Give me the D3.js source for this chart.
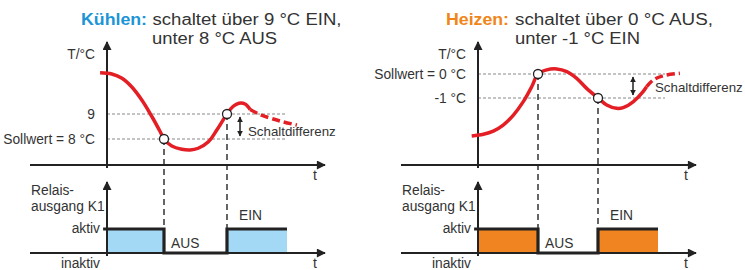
<!DOCTYPE html>
<html>
<head>
<meta charset="utf-8">
<script src="https://cdn.jsdelivr.net/npm/d3@7"></script>
<style>
  body { margin: 0; background: #fff; }
  svg text { font-family: "Liberation Sans", Arial, sans-serif; fill: #333; }
</style>
</head>
<body>
<div id="chart"></div>
<script>
// ---- data (time in arbitrary units, temperature in °C) ----
var coolSolid = [[-2.3,10.65],[1.6,10.6],[5,10.43],[8.2,10.09],[11.6,9.56],[15,8.89],[17.7,8.3],[19,8],
  [21.6,7.72],[24.9,7.59],[27.7,7.56],[30.4,7.63],[33.8,7.89],[36.6,8.36],[40,9],[42,9.3],[44,9.43],[46,9.4],[47.7,9.18]];
var coolDashed = [[47.7,9.18],[51,8.98],[57.7,8.72],[63.3,8.56]];
var coolSwitch = [[19,8],[40,9]];          // AUS at 8 °C, EIN at 9 °C
var coolRelay = [[-1.3,1],[19,1],[19,0],[40,0],[40,1],[60,1]];

var heatSolid = [[-2.1,-2.58],[1.8,-2.51],[5.1,-2.38],[8.4,-2.13],[11.8,-1.71],[15.1,-1.15],[17.9,-0.53],[20,0],
  [22.9,0.17],[26.2,0.21],[29.6,0.1],[32.9,-0.18],[36.2,-0.6],[40,-1],[42.9,-1.29],[46.2,-1.43],[48.4,-1.4],
  [51.8,-1.15],[54.6,-0.8],[56.2,-0.53]];
var heatDashed = [[56.2,-0.53],[58.4,-0.25],[61.8,-0.07],[67.3,0.03]];
var heatSwitch = [[20,0],[40,-1]];         // AUS at 0 °C, EIN at -1 °C
var heatRelay = [[-1.3,1],[20,1],[20,0],[40,0],[40,1],[60,1]];

var coolLevels = [9, 8], coolLevelLabels = ["9", "Sollwert = 8 °C"];
var heatLevels = [0, -1], heatLevelLabels = ["Sollwert = 0 °C", "-1 °C"];

var W = 745, H = 270;
var svg = d3.select("#chart").append("svg").attr("width", W).attr("height", H);

var defs = svg.append("defs");
defs.append("marker").attr("id", "arr")
  .attr("viewBox", "0 0 10 10").attr("refX", 9).attr("refY", 5)
  .attr("markerWidth", 6).attr("markerHeight", 6).attr("orient", "auto-start-reverse")
  .attr("markerUnits", "userSpaceOnUse")
  .append("path").attr("d", "M0,0 L10,5 L0,10 z").attr("fill", "#222");
defs.append("marker").attr("id", "axarr")
  .attr("viewBox", "0 0 10 10").attr("refX", 9).attr("refY", 5)
  .attr("markerWidth", 10).attr("markerHeight", 9).attr("orient", "auto")
  .attr("markerUnits", "userSpaceOnUse")
  .append("path").attr("d", "M0,0 L10,5 L0,10 z").attr("fill", "#222");

function drawPanel(p) {
  var g = svg.append("g");
  var x = d3.scaleLinear().domain([0, 60]).range([p.x0, p.x0 + 180]);
  var y = d3.scaleLinear().domain(p.tDomain).range(p.tRange);
  var yr = d3.scaleLinear().domain([0, 1]).range([253, 229]);
  var axisTop = 165, axisBot = 253;
  var fs = "13.8px";

  // title (source image is slightly stretched horizontally)
  g.append("text").attr("x", p.boldX).attr("y", 25).style("font-size", "16px")
    .attr("textLength", p.boldLen).attr("lengthAdjust", "spacingAndGlyphs")
    .style("font-weight", "bold").style("fill", p.color).text(p.titleBold);
  g.append("text").attr("x", p.title1X).attr("y", 25).style("font-size", "16px")
    .attr("textLength", p.title1Len).attr("lengthAdjust", "spacingAndGlyphs").text(p.title1);
  g.append("text").attr("x", p.title2X).attr("y", 43.5).style("font-size", "16px")
    .attr("textLength", p.title2Len).attr("lengthAdjust", "spacingAndGlyphs").text(p.title2);

  // reference level lines
  p.levels.forEach(function(v, i) {
    g.append("line").attr("x1", x(0)).attr("x2", p.levelEnd).attr("y1", y(v)).attr("y2", y(v))
      .attr("stroke", "#888").attr("stroke-width", 1).attr("stroke-dasharray", "3,2");
    g.append("text").attr("x", x(0) - 12).attr("y", y(v) + 5).attr("text-anchor", "end")
      .style("font-size", fs).text(p.levelLabels[i]);
  });

  // vertical switching lines
  p.sw.forEach(function(d) {
    g.append("line").attr("x1", x(d[0])).attr("x2", x(d[0])).attr("y1", y(d[1])).attr("y2", yr(1))
      .attr("stroke", "#333").attr("stroke-width", 1.5).attr("stroke-dasharray", "6,4");
  });

  // relay fill
  var area = d3.area().x(function(d) { return x(d[0]); }).y0(yr(0)).y1(function(d) { return yr(d[1]); });
  g.append("path").datum(p.relay.map(function(d) { return [Math.max(0, d[0]), d[1]]; }))
    .attr("d", area).attr("fill", p.fill);

  // axes
  [axisTop, axisBot].forEach(function(ay) {
    g.append("line").attr("x1", x(0) - 77).attr("x2", x(0) + 218).attr("y1", ay).attr("y2", ay)
      .attr("stroke", "#222").attr("stroke-width", 2).attr("marker-end", "url(#axarr)");
    g.append("text").attr("x", x(0) + 206).attr("y", ay + 15).style("font-size", "14px").text("t");
  });
  g.append("line").attr("x1", x(0)).attr("x2", x(0)).attr("y1", axisTop + 3).attr("y2", 42)
    .attr("stroke", "#222").attr("stroke-width", 2).attr("marker-end", "url(#axarr)");
  g.append("line").attr("x1", x(0)).attr("x2", x(0)).attr("y1", axisBot + 3).attr("y2", 182)
    .attr("stroke", "#222").attr("stroke-width", 2).attr("marker-end", "url(#axarr)");

  // relay step line
  g.append("path").datum(p.relay)
    .attr("d", d3.line().x(function(d) { return x(d[0]); }).y(function(d) { return yr(d[1]); }))
    .attr("fill", "none").attr("stroke", "#222").attr("stroke-width", 3.2);

  // temperature curve
  var line = d3.line().x(function(d) { return x(d[0]); }).y(function(d) { return y(d[1]); })
    .curve(d3.curveCatmullRom);
  g.append("path").datum(p.solid).attr("d", line)
    .attr("fill", "none").attr("stroke", "#e31e24").attr("stroke-width", 3.5);
  g.append("path").datum(p.dashed).attr("d", line)
    .attr("fill", "none").attr("stroke", "#e31e24").attr("stroke-width", 3.5).attr("stroke-dasharray", "8,4");

  g.selectAll("circle.sw").data(p.sw).enter().append("circle")
    .attr("cx", function(d) { return x(d[0]); }).attr("cy", function(d) { return y(d[1]); })
    .attr("r", 4.5).attr("fill", "#fff").attr("stroke", "#222").attr("stroke-width", 1.3);

  // Schaltdifferenz arrow
  g.append("line").attr("x1", p.arrowX).attr("x2", p.arrowX)
    .attr("y1", y(p.levels[0]) + 3).attr("y2", y(p.levels[1]) - 3)
    .attr("stroke", "#222").attr("stroke-width", 1.5)
    .attr("marker-start", "url(#arr)").attr("marker-end", "url(#arr)");
  g.append("text").attr("x", p.sdX).attr("y", p.sdY)
    .style("font-size", "13.3px").text("Schaltdifferenz");

  // labels
  g.append("text").attr("x", x(0) - 12).attr("y", 59).attr("text-anchor", "end").style("font-size", fs).text("T/°C");
  g.append("text").attr("x", x(0) - 76).attr("y", 195).style("font-size", fs).text("Relais-");
  g.append("text").attr("x", x(0) - 76).attr("y", 211).style("font-size", fs).text("ausgang K1");
  g.append("text").attr("x", x(0) - 7).attr("y", 233).attr("text-anchor", "end").style("font-size", fs).text("aktiv");
  g.append("text").attr("x", x(0) - 7).attr("y", 268).attr("text-anchor", "end").style("font-size", fs).text("inaktiv");
  g.append("text").attr("x", x(p.sw[0][0]) + 7).attr("y", 248).style("font-size", fs).text("AUS");
  g.append("text").attr("x", x(p.sw[1][0]) + 12).attr("y", 220).style("font-size", fs).text("EIN");
}

drawPanel({
  x0: 107, tDomain: [8, 9], tRange: [139, 114], color: "#1b95d6", fill: "#a4d9f5",
  boldX: 81, boldLen: 66, title1X: 152.5, title1Len: 189, title2X: 152, title2Len: 125,
  titleBold: "Kühlen:", title1: "schaltet über 9 °C EIN,", title2: "unter 8 °C AUS",
  levels: coolLevels, levelLabels: coolLevelLabels, levelEnd: 285,
  solid: coolSolid, dashed: coolDashed, sw: coolSwitch, relay: coolRelay,
  arrowX: 240, sdX: 248, sdY: 136
});
drawPanel({
  x0: 478, tDomain: [-1, 0], tRange: [98, 74], color: "#f08519", fill: "#ef8421",
  boldX: 446, boldLen: 63, title1X: 515, title1Len: 198, title2X: 515, title2Len: 125,
  titleBold: "Heizen:", title1: "schaltet über 0 °C AUS,", title2: "unter -1 °C EIN",
  levels: heatLevels, levelLabels: heatLevelLabels, levelEnd: 665,
  solid: heatSolid, dashed: heatDashed, sw: heatSwitch, relay: heatRelay,
  arrowX: 633, sdX: 655, sdY: 92
});
</script>
</body>
</html>
